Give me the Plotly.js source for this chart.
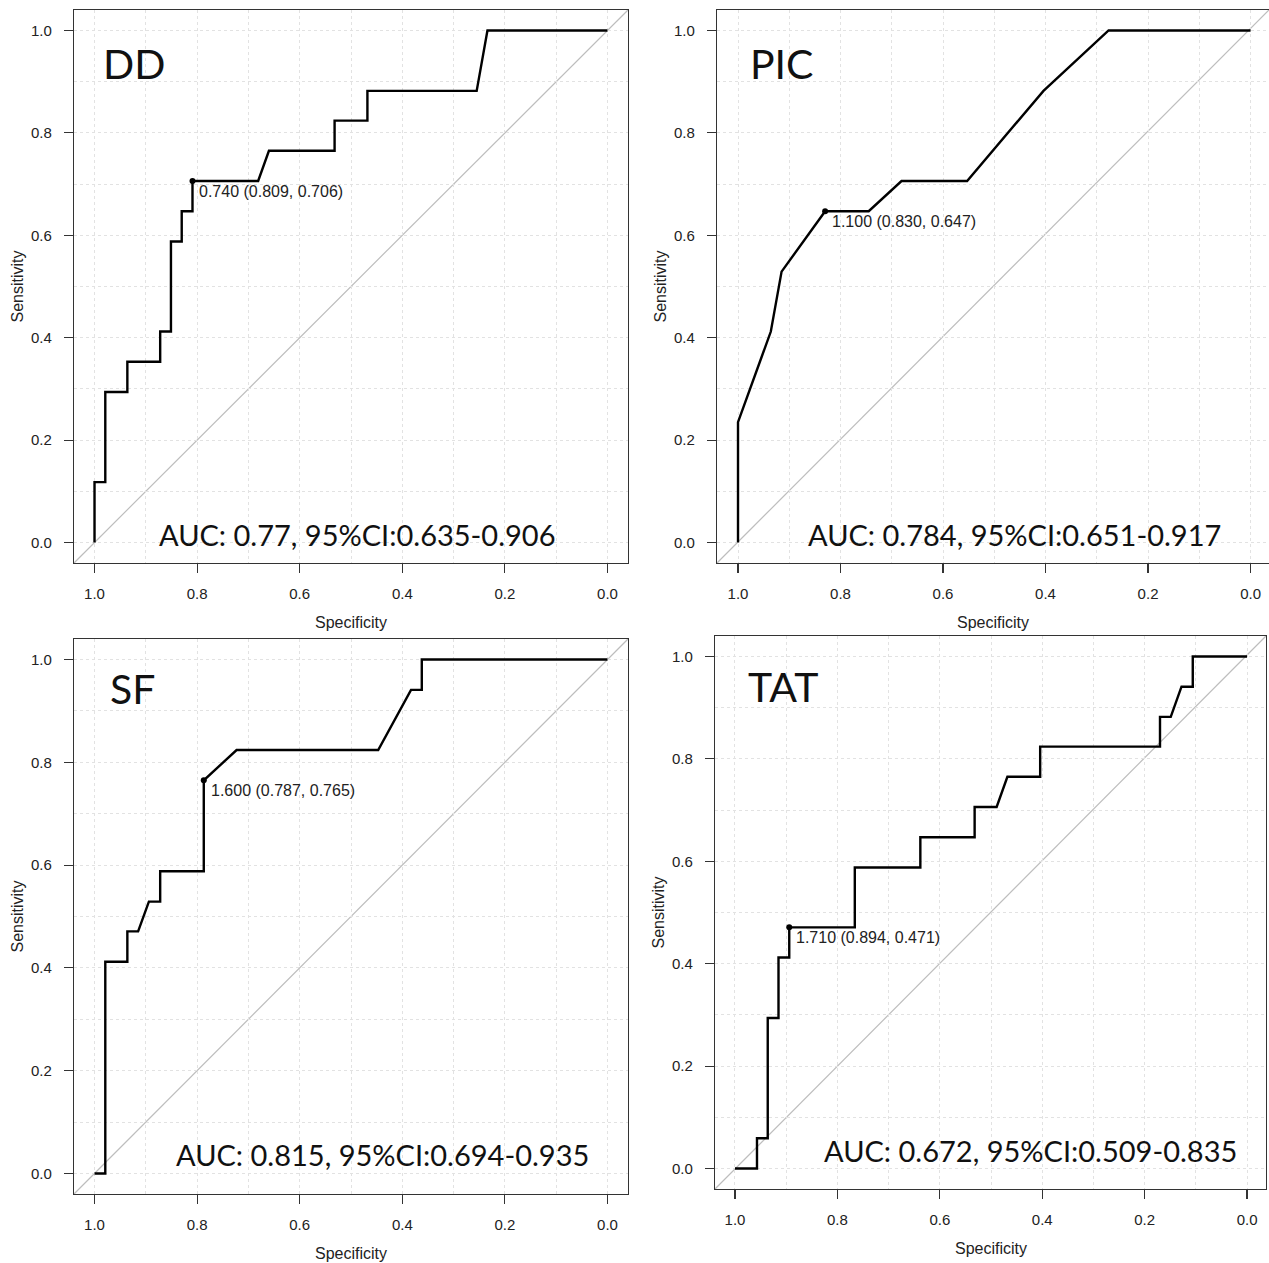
<!DOCTYPE html>
<html>
<head>
<meta charset="utf-8">
<script src="https://cdn.plot.ly/plotly-3.0.1.min.js"></script>
<style>html,body{margin:0;padding:0;background:#fff;overflow:hidden}#chart{width:1269px;height:1263px}</style>
</head>
<body>
<div id="chart"></div>
<script>
// ---------- data ----------
const panelNames = ["DD", "PIC", "SF", "TAT"];
const aucTexts = [
  "AUC: 0.77, 95%CI:0.635-0.906",
  "AUC: 0.784, 95%CI:0.651-0.917",
  "AUC: 0.815, 95%CI:0.694-0.935",
  "AUC: 0.672, 95%CI:0.509-0.835"
];

const ddSpec = [1.000, 1.000, 0.979, 0.979, 0.936, 0.936, 0.872, 0.872, 0.851, 0.851, 0.830, 0.830, 0.809, 0.809, 0.681, 0.660, 0.532, 0.532, 0.468, 0.468, 0.255, 0.234, 0.000];
const ddSens = [0.000, 0.118, 0.118, 0.294, 0.294, 0.353, 0.353, 0.412, 0.412, 0.588, 0.588, 0.647, 0.647, 0.706, 0.706, 0.765, 0.765, 0.824, 0.824, 0.882, 0.882, 1.000, 1.000];

const picSpec = [1.000, 1.000, 0.936, 0.915, 0.830, 0.745, 0.681, 0.553, 0.404, 0.277, 0.000];
const picSens = [0.000, 0.235, 0.412, 0.529, 0.647, 0.647, 0.706, 0.706, 0.882, 1.000, 1.000];

const sfSpec = [1.000, 0.979, 0.979, 0.936, 0.936, 0.915, 0.894, 0.872, 0.872, 0.787, 0.787, 0.723, 0.447, 0.383, 0.362, 0.362, 0.000];
const sfSens = [0.000, 0.000, 0.412, 0.412, 0.471, 0.471, 0.529, 0.529, 0.588, 0.588, 0.765, 0.824, 0.824, 0.941, 0.941, 1.000, 1.000];

const tatSpec = [1.000, 0.957, 0.957, 0.936, 0.936, 0.915, 0.915, 0.894, 0.894, 0.766, 0.766, 0.638, 0.638, 0.532, 0.532, 0.489, 0.468, 0.404, 0.404, 0.170, 0.170, 0.149, 0.128, 0.106, 0.106, 0.000];
const tatSens = [0.000, 0.000, 0.059, 0.059, 0.294, 0.294, 0.412, 0.412, 0.471, 0.471, 0.588, 0.588, 0.647, 0.647, 0.706, 0.706, 0.765, 0.765, 0.824, 0.824, 0.882, 0.882, 0.941, 0.941, 1.000, 1.000];

const bestThreshold = ["0.740", "1.100", "1.600", "1.710"];
const bestSpec = [0.809, 0.830, 0.787, 0.894];
const bestSens = [0.706, 0.647, 0.765, 0.471];

const tickVals = [0, 0.2, 0.4, 0.6, 0.8, 1.0];
const tickText = ["0.0", "0.2", "0.4", "0.6", "0.8", "1.0"];

// ---------- layout geometry (pixels) ----------
const W = 1269, H = 1263;
const boxes = [
  {l: 74,  r: 628,  t: 10,  b: 563,  xr: [1.04, -0.04],  yr: [-0.04, 1.04]},
  {l: 717, r: 1269, t: 10,  b: 563,  xr: [1.041, -0.036], yr: [-0.04, 1.04]},
  {l: 74,  r: 628,  t: 639, b: 1194, xr: [1.04, -0.04],  yr: [-0.04, 1.04]},
  {l: 715, r: 1266, t: 636, b: 1189, xr: [1.039, -0.037], yr: [-0.04, 1.04]}
];
const labelPos = [[101, 64], [748, 64], [108, 688], [746, 686]];
const aucPos = [[357, 534], [1014, 534], [382, 1154], [1030, 1150]];

const px = v => v / W;
const py = v => 1 - v / H;

const specs = [ddSpec, picSpec, sfSpec, tatSpec];
const senss = [ddSens, picSens, sfSens, tatSens];

const tickFont = {family: "Liberation Sans, Arial, sans-serif", size: 15, color: "#222"};
const smallFont = {family: "Liberation Sans, Arial, sans-serif", size: 16, color: "#222"};
const bigFont = {family: "Lato, Carlito, sans-serif", color: "#111"};

const traces = [];
const layout = {
  width: W, height: H,
  margin: {l: 0, r: 0, t: 0, b: 0},
  paper_bgcolor: "#fff", plot_bgcolor: "#fff",
  showlegend: false,
  annotations: [], shapes: []
};

for (let i = 0; i < 4; i++) {
  const sfx = i === 0 ? "" : String(i + 1);
  const xa = "x" + sfx, ya = "y" + sfx;
  const bx = boxes[i];

  traces.push({
    type: "scatter", mode: "lines", x: specs[i], y: senss[i],
    xaxis: xa, yaxis: ya, line: {color: "#000", width: 2.4}, hoverinfo: "skip"
  });
  traces.push({
    type: "scatter", mode: "markers", x: [bestSpec[i]], y: [bestSens[i]],
    xaxis: xa, yaxis: ya, marker: {color: "#000", size: 6}, hoverinfo: "skip"
  });

  const axCommon = {
    showline: true, mirror: true, linecolor: "#333", linewidth: 1.2,
    ticks: "outside", ticklen: 9, tickwidth: 1.2, tickcolor: "#333",
    tickvals: tickVals, ticktext: tickText, tickfont: tickFont,
    showgrid: true, gridcolor: "#e2e2e2", griddash: "dot", gridwidth: 1,
    minor: {dtick: 0.1, tick0: 0, showgrid: true, gridcolor: "#e2e2e2", griddash: "dot", gridwidth: 1, ticks: ""},
    zeroline: false, fixedrange: true
  };
  layout["xaxis" + sfx] = Object.assign({}, axCommon, {
    domain: [px(bx.l), px(bx.r)], range: bx.xr, anchor: ya, ticklabelstandoff: 8
  });
  layout["yaxis" + sfx] = Object.assign({}, axCommon, {
    domain: [py(bx.b), py(bx.t)], range: bx.yr, anchor: xa, ticklabelstandoff: 9
  });

  // chance diagonal
  layout.shapes.push({
    type: "line", xref: xa + " domain", yref: ya + " domain",
    x0: 0, y0: 0, x1: 1, y1: 1, line: {color: "#bdbdbd", width: 1.2}, layer: "below"
  });

  // best threshold label
  layout.annotations.push({
    xref: xa, yref: ya, x: bestSpec[i], y: bestSens[i],
    text: bestThreshold[i] + " (" + bestSpec[i].toFixed(3) + ", " + bestSens[i].toFixed(3) + ")",
    showarrow: false, xanchor: "left", yanchor: "top", xshift: 5, yshift: 0,
    font: smallFont
  });
  // panel name
  layout.annotations.push({
    xref: "paper", yref: "paper", x: px(labelPos[i][0]), y: py(labelPos[i][1]),
    text: panelNames[i], showarrow: false, xanchor: "left", yanchor: "middle",
    font: Object.assign({size: 41}, bigFont)
  });
  // AUC text
  layout.annotations.push({
    xref: "paper", yref: "paper", x: px(aucPos[i][0]), y: py(aucPos[i][1]),
    text: aucTexts[i], showarrow: false, xanchor: "center", yanchor: "middle",
    font: Object.assign({size: 29}, bigFont)
  });
  // axis titles
  const cx = (bx.l + bx.r) / 2, cy = (bx.t + bx.b) / 2;
  layout.annotations.push({
    xref: "paper", yref: "paper", x: px(cx), y: py(bx.b + 59),
    text: "Specificity", showarrow: false, xanchor: "center", yanchor: "middle",
    font: smallFont
  });
  layout.annotations.push({
    xref: "paper", yref: "paper", x: px(bx.l - 57), y: py(cy),
    text: "Sensitivity", showarrow: false, xanchor: "center", yanchor: "middle",
    textangle: -90, font: smallFont
  });
}

Plotly.newPlot("chart", traces, layout, {staticPlot: true, displayModeBar: false});
</script>
</body>
</html>
